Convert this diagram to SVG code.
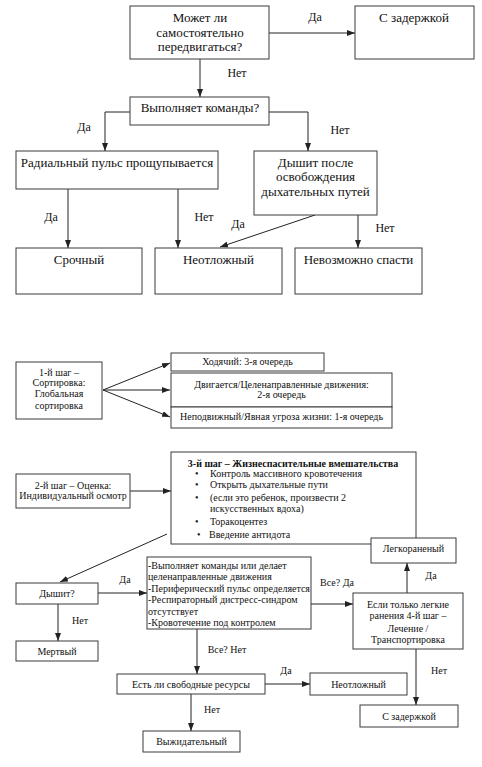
<svg xmlns="http://www.w3.org/2000/svg" width="482" height="767" viewBox="0 0 482 767" font-family="'Liberation Serif', 'DejaVu Serif', serif">
<defs>
<marker id="a" markerWidth="8" markerHeight="6" refX="8" refY="3" orient="auto" markerUnits="userSpaceOnUse"><path d="M0,0 L8,3 L0,6 z" fill="#222"/></marker>
<style>
.box{fill:#fff;stroke:#3a3a3a;stroke-width:1}
text{font-family:'Liberation Serif','DejaVu Serif',serif;fill:#111}
.t{font-size:13px;text-anchor:middle}
.l{font-size:12px;text-anchor:middle}
.s{font-size:10px;text-anchor:middle}
.sl{font-size:10px}
.b{font-size:10px;font-weight:bold;text-anchor:middle}
.c{stroke:#222;stroke-width:1;fill:none;marker-end:url(#a)}
</style>
</defs>
<rect width="482" height="767" fill="#fff"/>
<g id="connectors">
<path class="c" d="M269,33 H355"/>
<path class="c" d="M200,59 V97"/>
<path class="c" d="M130,112 H105 V151"/>
<path class="c" d="M269,112 H308 V151"/>
<path class="c" d="M68,189 V248"/>
<path class="c" d="M178,189 V248"/>
<path class="c" d="M315,215 L220,247"/>
<path class="c" d="M358,215 V248"/>
<path class="c" d="M103,390 L170,363"/>
<path class="c" d="M103,390 H170"/>
<path class="c" d="M103,390 L170,417"/>
<path class="c" d="M130,491 H171"/>
<path class="c" d="M167,534 L60,582"/>
<path class="c" d="M98,593 H147"/>
<path class="c" d="M58,604 V641"/>
<path class="c" d="M311,604 H353"/>
<path class="c" d="M407,593 V563"/>
<path class="c" d="M197,629 V674"/>
<path class="c" d="M265,684 H310"/>
<path class="c" d="M191,694 V731"/>
<path class="c" d="M416,649 V705"/>
<text class="l" x="315" y="21">Да</text>
<text class="l" x="237" y="77">Нет</text>
<text class="l" x="84" y="131">Да</text>
<text class="l" x="340" y="134">Нет</text>
<text class="l" x="51" y="221">Да</text>
<text class="l" x="204" y="221">Нет</text>
<text class="l" x="238" y="228">Да</text>
<text class="l" x="385" y="232">Нет</text>
<text class="s" x="125" y="583">Да</text>
<text class="s" x="80" y="624">Нет</text>
<text class="s" x="337" y="586">Все? Да</text>
<text class="s" x="431" y="579">Да</text>
<text class="s" x="227" y="653">Все? Нет</text>
<text class="s" x="286" y="674">Да</text>
<text class="s" x="212" y="713">Нет</text>
<text class="s" x="439" y="674">Нет</text>
</g>
<g id="n-move"><rect class="box" x="130" y="6" width="139" height="53"/>
<text class="t" x="200" y="22">Может ли</text><text class="t" x="200" y="37">самостоятельно</text><text class="t" x="200" y="51">передвигаться?</text></g>
<g id="n-delay1"><rect class="box" x="355" y="6" width="119" height="53"/><text class="t" x="414" y="22">С задержкой</text></g>
<g id="n-cmd"><rect class="box" x="130" y="97" width="139" height="28"/><text class="t" x="200" y="112">Выполняет команды?</text></g>
<g id="n-pulse"><rect class="box" x="16" y="151" width="202" height="38"/><text class="t" x="117" y="167">Радиальный пульс прощупывается</text></g>
<g id="n-breath"><rect class="box" x="254" y="151" width="123" height="64"/>
<text class="t" x="315.5" y="167">Дышит после</text><text class="t" x="315.5" y="181">освобождения</text><text class="t" x="315.5" y="196">дыхательных путей</text></g>
<g id="n-urgent"><rect class="box" x="16" y="248" width="126" height="46"/><text class="t" x="79" y="264">Срочный</text></g>
<g id="n-emerg1"><rect class="box" x="155" y="248" width="127" height="46"/><text class="t" x="218.5" y="264">Неотложный</text></g>
<g id="n-nosave"><rect class="box" x="295" y="248" width="127" height="46"/><text class="t" x="358.5" y="264">Невозможно спасти</text></g>

<g id="n-step1"><rect class="box" x="16" y="362" width="86" height="57"/>
<text class="s" x="59" y="375.5">1-й шаг –</text><text class="s" x="59" y="386">Сортировка:</text><text class="s" x="59" y="397">Глобальная</text><text class="s" x="59" y="408.5">сортировка</text></g>
<g id="n-walk"><rect class="box" x="171" y="353" width="153" height="18"/><text class="s" x="247.5" y="364.5">Ходячий: 3-я очередь</text></g>
<g id="n-moves"><rect class="box" x="171" y="373" width="221" height="34"/>
<text class="s" x="281.5" y="387.5">Двигается/Целенаправленные движения:</text><text class="s" x="281.5" y="397.5">2-я очередь</text></g>
<g id="n-still"><rect class="box" x="171" y="407" width="221" height="21"/><text class="s" x="281.5" y="419.5">Неподвижный/Явная угроза жизни: 1-я очередь</text></g>

<g id="n-step2"><rect class="box" x="16" y="474" width="114" height="34"/>
<text class="s" x="73" y="488.5">2-й шаг – Оценка:</text><text class="s" x="73" y="498.5">Индивидуальный осмотр</text></g>
<g id="n-step3"><rect class="box" x="171" y="452" width="245" height="92"/>
<text class="b" x="293" y="466.5">3-й шаг – Жизнеспасительные вмешательства</text>
<text class="sl" x="195" y="476.5">•</text><text class="sl" x="210" y="476.5">Контроль массивного кровотечения</text>
<text class="sl" x="195" y="487.5">•</text><text class="sl" x="210" y="487.5">Открыть дыхательные пути</text>
<text class="sl" x="195" y="500.5">•</text><text class="sl" x="210" y="500.5">(если это ребенок, произвести 2</text>
<text class="sl" x="210" y="511.5">искусственных вдоха)</text>
<text class="sl" x="195" y="524.5">•</text><text class="sl" x="210" y="524.5">Торакоцентез</text>
<text class="sl" x="197" y="537.5">•</text><text class="sl" x="209" y="537.5">Введение антидота</text></g>
<g id="n-light"><rect class="box" x="371" y="538" width="85" height="25"/><text class="s" x="413.5" y="551.5">Легкораненый</text></g>
<g id="n-breathes"><rect class="box" x="16" y="583" width="82" height="21"/><text class="s" x="57" y="596.5">Дышит?</text></g>
<g id="n-criteria"><rect class="box" x="147" y="557" width="164" height="72"/>
<text class="sl" x="148" y="568.5">-Выполняет команды или делает</text>
<text class="sl" x="148" y="579.5">целенаправленные движения</text>
<text class="sl" x="148" y="591.5">-Периферический пульс определяется</text>
<text class="sl" x="148" y="602.5">-Респираторный дистресс-синдром</text>
<text class="sl" x="148" y="614.5">отсутствует</text>
<text class="sl" x="148" y="625.5">-Кровотечение под контролем</text></g>
<g id="n-dead"><rect class="box" x="16" y="641" width="82" height="20"/><text class="s" x="57" y="654.5">Мертвый</text></g>
<g id="n-step4"><rect class="box" x="353" y="593" width="110" height="56"/>
<text class="s" x="408" y="607.5">Если только легкие</text><text class="s" x="408" y="618.5">ранения 4-й шаг –</text><text class="s" x="408" y="631.5">Лечение /</text><text class="s" x="408" y="642.5">Транспортировка</text></g>
<g id="n-resources"><rect class="box" x="117" y="674" width="148" height="20"/><text class="s" x="191" y="687.5">Есть ли свободные ресурсы</text></g>
<g id="n-emerg2"><rect class="box" x="310" y="673" width="97" height="22"/><text class="s" x="358.5" y="687.5">Неотложный</text></g>
<g id="n-expect"><rect class="box" x="143" y="731" width="97" height="21"/><text class="s" x="191.5" y="744.5">Выжидательный</text></g>
<g id="n-delay2"><rect class="box" x="360" y="705" width="98" height="22"/><text class="s" x="409" y="720">С задержкой</text></g>
</svg>
